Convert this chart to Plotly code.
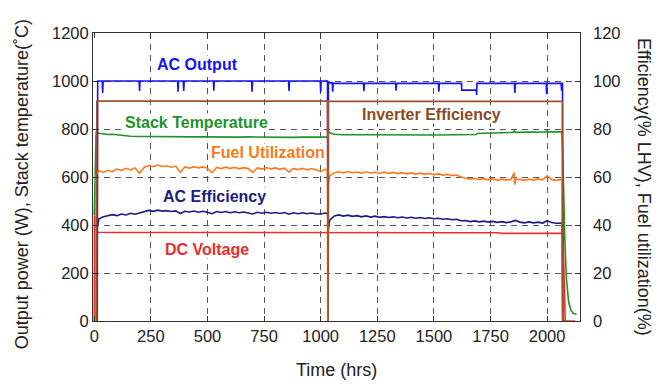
import plotly.graph_objects as go

FONT = "Liberation Sans, Arial, Helvetica, sans-serif"

# ---------------- data ----------------
# AC output (W), left axis
ac_out_t = [13, 15, 35, 37, 39, 198, 200, 202, 368, 370, 372, 393, 395, 397, 526, 528, 530,
            695, 697, 699, 858, 860, 862, 998, 1000, 1002, 1030, 1031, 1033, 1034, 1036,
            1051, 1053, 1055, 1189, 1191, 1193, 1331, 1333, 1335, 1520, 1522, 1524,
            1622, 1623, 1687, 1689, 1690, 1856, 1858, 1860, 1996, 1998, 2000, 2062, 2064, 2066, 2068, 2069, 2075]
ac_out_v = [0, 1000, 1000, 950, 1000, 1000, 958, 1000, 1000, 955, 1000, 1000, 958, 1000, 1000, 960, 1000,
            1000, 955, 1000, 1000, 958, 1000, 1000, 952, 1000, 1000, 0, 0, 992, 992,
            992, 955, 990, 990, 958, 990, 990, 960, 990, 990, 955, 990,
            990, 962, 962, 942, 990, 990, 950, 990, 990, 945, 990, 990, 960, 990, 990, 0, 0]

# Inverter efficiency (%), right axis
inv_t = [10, 11, 1030, 1031, 1033, 1034, 2068, 2069, 2085]
inv_v = [0, 91.6, 91.6, 0, 0, 91.5, 91.5, 0, 0]

# Stack temperature (C), left axis
stack_t = [0, 4, 8, 20, 40, 60, 80, 100, 120, 140, 160, 180, 200, 240, 280, 320, 360, 400, 440, 480,
           520, 560, 600, 640, 680, 720, 760, 800, 840, 880, 920, 960, 1000, 1020, 1031, 1034, 1045,
           1060, 1100, 1200, 1300, 1400, 1500, 1600, 1685, 1690, 1745, 1750, 1850, 1855, 1860,
           1995, 2000, 2005, 2066, 2069, 2072, 2078, 2085, 2095, 2105, 2115, 2130]
stack_v = [440, 620, 785, 782, 779, 777, 778, 775, 773, 772, 770, 771, 769, 769, 768, 768, 767, 768, 767, 767,
           766, 767, 766, 766, 767, 766, 766, 767, 766, 765, 766, 766, 765, 766, 766, 790, 782,
           778, 776, 776, 775, 775, 775, 776, 777, 781, 782, 785, 786, 792, 786,
           788, 794, 788, 788, 700, 560, 350, 180, 80, 45, 32, 28]

# Fuel utilization (%), right axis
fuel_t = [6, 8, 20, 40, 60, 80, 100, 120, 140, 160, 180, 200, 220, 240, 260, 280, 300, 320, 340, 360,
          380, 400, 420, 440, 460, 480, 500, 520, 540, 560, 580, 600, 620, 640, 660, 680, 700, 720,
          740, 760, 780, 800, 820, 840, 860, 880, 900, 920, 940, 960, 980, 1000, 1020, 1030, 1031,
          1033, 1034, 1040, 1060, 1080, 1100, 1120, 1140, 1160, 1180, 1200, 1220, 1240, 1260, 1280,
          1300, 1320, 1340, 1360, 1380, 1400, 1420, 1440, 1460, 1480, 1500, 1520, 1540, 1560, 1580,
          1600, 1620, 1640, 1660, 1680, 1700, 1720, 1740, 1760, 1780, 1800, 1820, 1840, 1855, 1858,
          1861, 1880, 1900, 1920, 1940, 1960, 1980, 2000, 2020, 2040, 2060, 2066, 2069, 2090]
fuel_v = [0, 61.0, 62.6, 61.9, 62.8, 62.2, 63.3, 62.7, 63.6, 63.0, 63.8, 61.6, 64.0, 64.8, 64.3, 65.0,
          64.4, 64.7, 64.1, 64.5, 62.0, 64.2, 63.7, 64.3, 63.8, 64.2, 63.6, 61.8, 64.0, 63.5, 64.1,
          63.6, 64.0, 63.4, 63.9, 63.5, 61.9, 63.8, 63.3, 63.9, 63.4, 63.8, 63.2, 63.7, 62.0, 63.6,
          63.1, 63.6, 63.0, 63.5, 63.0, 62.2, 63.2, 63.0, 0,
          0, 57.0, 60.5, 61.8, 62.2, 61.7, 62.3, 61.8, 62.1, 61.6, 62.2, 61.7, 62.0, 61.5, 62.0,
          61.5, 61.9, 61.4, 61.8, 61.3, 61.7, 61.2, 61.6, 61.1, 61.5, 61.0, 61.3, 60.8, 61.1, 60.6,
          60.8, 60.0, 59.6, 59.1, 59.4, 58.9, 59.3, 58.8, 59.2, 58.7, 59.1, 58.7, 59.0, 61.8, 56.8,
          59.0, 59.0, 58.6, 59.1, 58.7, 59.2, 58.8, 60.5, 59.0, 58.6, 59.0, 58.8, 0, 0]

# AC efficiency (%), right axis
eff_t = [8, 20, 40, 60, 80, 100, 120, 140, 160, 180, 200, 220, 240, 260, 280, 300, 320, 340, 360, 380,
         400, 420, 440, 460, 480, 500, 520, 540, 560, 580, 600, 620, 640, 660, 680, 700, 720, 740, 760,
         780, 800, 820, 840, 860, 880, 900, 920, 940, 960, 980, 1000, 1020, 1030,
         1034, 1040, 1060, 1080, 1100, 1120, 1140, 1160, 1180, 1200, 1220, 1240, 1260, 1280, 1300,
         1320, 1340, 1360, 1380, 1400, 1420, 1440, 1460, 1480, 1500, 1520, 1540, 1560, 1580, 1600,
         1620, 1640, 1660, 1680, 1700, 1720, 1740, 1760, 1780, 1800, 1820, 1840, 1860, 1880, 1900,
         1920, 1940, 1960, 1980, 2000, 2020, 2040, 2060, 2066, 2069]
eff_v = [36.5, 42.5, 43.4, 43.8, 44.3, 43.9, 44.6, 44.2, 44.9, 44.5, 45.0, 45.6, 46.1, 45.7, 46.2, 45.8,
         46.0, 45.6, 45.9, 44.8, 45.7, 45.4, 45.8, 45.3, 45.7, 45.3, 44.7, 45.6, 45.2, 45.6, 45.1,
         45.5, 45.1, 45.4, 45.0, 44.6, 45.3, 44.9, 45.3, 44.9, 45.2, 44.8, 45.2, 44.5, 45.1, 44.7,
         45.1, 44.7, 45.0, 44.6, 44.6, 45.0, 44.8,
         38.5, 42.0, 43.8, 44.2, 43.7, 44.1, 43.6, 43.9, 43.4, 43.8, 43.3, 43.7, 43.2, 43.5, 43.1,
         43.4, 43.0, 43.3, 42.9, 43.2, 42.8, 43.1, 42.7, 43.0, 42.6, 42.8, 42.4, 42.6, 42.2, 42.4,
         41.8, 41.9, 41.4, 41.7, 41.3, 41.6, 41.2, 41.5, 41.1, 41.4, 41.0, 41.3, 41.9, 41.2, 40.9,
         41.3, 40.9, 41.2, 40.8, 41.8, 41.0, 40.7, 41.0, 40.8, 0]

# DC voltage (V), left axis
dc_t = [0, 1, 8, 9, 100, 500, 1000, 1500, 1780, 1800, 2066, 2069, 2072, 2080, 2125]
dc_v = [0, 435, 435, 370, 369, 368, 368, 368, 368, 365, 365, 450, 300, 0, 0]

x_ticks = [0, 250, 500, 750, 1000, 1250, 1500, 1750, 2000]
x_grid = [250, 500, 750, 1000, 1250, 1500, 1750, 2000]
left_ticks = [0, 200, 400, 600, 800, 1000, 1200]
right_ticks = [0, 20, 40, 60, 80, 100, 120]

labels = [
    ("AC Output", 454, 1068, "#1414f0", "y"),
    ("Stack Temperature", 451, 827, "#22922b", "y"),
    ("Fuel Utilization", 767, 703, "#f97b20", "y"),
    ("AC Efficiency", 532, 519, "#1b1b80", "y"),
    ("DC Voltage", 500, 300, "#ee2c2c", "y"),
    ("Inverter Efficiency", 1489, 861, "#8b4a1e", "y"),
]

# ---------------- figure ----------------
fig = go.Figure()
LW = 1.6
fig.add_trace(go.Scatter(x=dc_t, y=dc_v, mode="lines", line=dict(color="#ee2c2c", width=LW), yaxis="y"))
fig.add_trace(go.Scatter(x=stack_t, y=stack_v, mode="lines", line=dict(color="#22922b", width=LW), yaxis="y"))
fig.add_trace(go.Scatter(x=eff_t, y=eff_v, mode="lines", line=dict(color="#1b1b80", width=LW), yaxis="y2"))
fig.add_trace(go.Scatter(x=fuel_t, y=fuel_v, mode="lines", line=dict(color="#f97b20", width=LW), yaxis="y2"))
fig.add_trace(go.Scatter(x=inv_t, y=inv_v, mode="lines", line=dict(color="#a0522d", width=LW), yaxis="y2"))
fig.add_trace(go.Scatter(x=ac_out_t, y=ac_out_v, mode="lines", line=dict(color="#1414f0", width=LW), yaxis="y"))

tickfont = dict(family=FONT, size=16.5, color="#222")
grid = dict(gridcolor="#555", gridwidth=1, griddash="6px,5px")

fig.update_layout(
    width=665, height=384,
    margin=dict(l=93, r=85, t=33, b=63),
    paper_bgcolor="white", plot_bgcolor="white",
    showlegend=False,
    font=dict(family=FONT, color="#222"),
    xaxis=dict(range=[-5.7, 2145.3], tickmode="array", tickvals=x_ticks, showgrid=False,
               ticks="inside", ticklen=5, tickcolor="#333", showline=True, linecolor="#333",
               linewidth=1, mirror="ticks", zeroline=False, tickfont=tickfont,
               minor=dict(tickmode="array", tickvals=x_grid, showgrid=True, ticks="", **grid)),
    yaxis=dict(range=[0, 1200], tickmode="array", tickvals=left_ticks, showgrid=True, **grid,
               ticks="inside", ticklen=5, tickcolor="#333", showline=True, linecolor="#333",
               linewidth=1, mirror=True, zeroline=False, tickfont=tickfont),
    yaxis2=dict(range=[0, 120], tickmode="array", tickvals=right_ticks, overlaying="y", side="right",
                showgrid=False, ticks="inside", ticklen=5, tickcolor="#333", showline=False,
                zeroline=False, tickfont=tickfont, ticklabelstandoff=12),
)

for text, x, y, color, yref in labels:
    fig.add_annotation(x=x, y=y, xref="x", yref=yref, text="<b>" + text + "</b>", showarrow=False,
                       font=dict(family=FONT, size=16, color=color), bgcolor="white",
                       xanchor="center", yanchor="middle", borderpad=0)

fig.add_annotation(x=-0.1458, y=0.475, xref="paper", yref="paper", textangle=-90,
                   text="Output power (W), Stack temperature(˚C)", showarrow=False,
                   font=dict(family=FONT, size=18, color="#222"), xanchor="center", yanchor="middle")
fig.add_annotation(x=1.1315, y=0.465, xref="paper", yref="paper", textangle=90,
                   text="Efficiency(% LHV), Fuel utilization(%)", showarrow=False,
                   font=dict(family=FONT, size=18, color="#222"), xanchor="center", yanchor="middle")
fig.add_annotation(x=0.5, y=-0.17, xref="paper", yref="paper",
                   text="Time (hrs)", showarrow=False,
                   font=dict(family=FONT, size=18, color="#222"), xanchor="center", yanchor="middle")

fig.write_html("out.html")
